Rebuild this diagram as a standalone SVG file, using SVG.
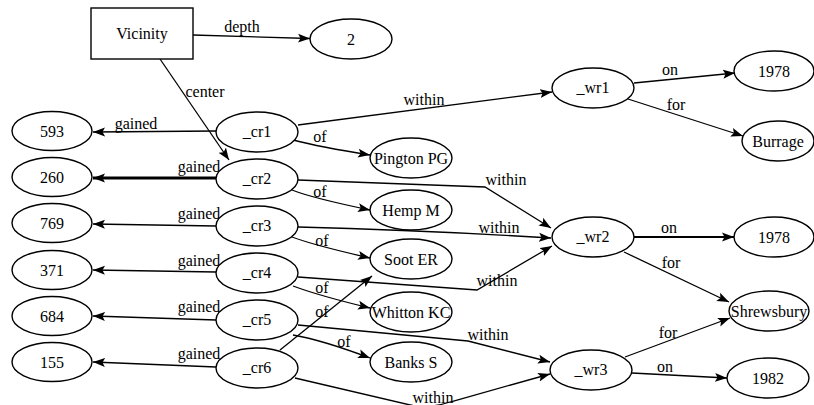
<svg xmlns="http://www.w3.org/2000/svg" width="814" height="405" viewBox="0 0 814 405">
  <defs>
    <marker id="arrow" markerUnits="userSpaceOnUse" markerWidth="14" markerHeight="10" refX="12" refY="5" orient="auto">
      <path d="M0,0.5 L12,5 L0,9.5 L2.5,5 z" fill="#000"/>
    </marker>
    <style>
      text { font-family: Liberation Serif, Times New Roman, Tinos, Nimbus Roman, FreeSerif, DejaVu Serif, serif; font-size: 16px; fill: #000; }
      .node text { text-anchor: middle; }
      .node ellipse, .node rect { fill: #fff; stroke: #000; stroke-width: 1.4; }
      .edges path { fill: none; stroke: #000; stroke-width: 1.3; marker-end: url(#arrow); }
      .edges path.bold { stroke-width: 2.8; }
      .edges path.mid { stroke-width: 2; }
      .edges text { text-anchor: middle; }
    </style>
  </defs>
  <rect width="814" height="405" fill="#fff"/>

  <!-- connectors -->
  <g id="edges" class="edges">
    <path d="M193,35 L310,38.5"/>
    <text x="242" y="32">depth</text>
    <path d="M160,59 L229,160"/>
    <text x="205" y="97">center</text>

    <path d="M216,131 L93,132"/>
    <text x="136" y="129">gained</text>
    <path class="bold" d="M216,178 L93,178"/>
    <text x="199" y="172">gained</text>
    <path d="M216,226 L93,224"/>
    <text x="199" y="219">gained</text>
    <path d="M216,272 L93,270"/>
    <text x="199" y="266">gained</text>
    <path d="M216,320 L93,316"/>
    <text x="199" y="312">gained</text>
    <path d="M216,367 L93,362"/>
    <text x="199" y="359">gained</text>

    <path d="M293,140 Q320,147 370,155"/>
    <text x="320" y="142">of</text>
    <path d="M292,190 Q312,198 370,210"/>
    <text x="320" y="197">of</text>
    <path d="M292,237 Q313,245 370,258"/>
    <text x="322" y="246">of</text>
    <path d="M293,286 Q320,296 370,308"/>
    <text x="322" y="293">of</text>
    <path d="M280,350 L372,276"/>
    <text x="322" y="317">of</text>
    <path d="M293,335 Q322,340 370,358"/>
    <text x="344" y="347">of</text>

    <path d="M298,125 L552,92"/>
    <text x="424" y="105">within</text>
    <path d="M298,180 L485,187 L551,228"/>
    <text x="506" y="185">within</text>
    <path d="M298,227 Q420,230 551,238"/>
    <text x="499" y="233">within</text>
    <path d="M298,277 L477,290 L552,246"/>
    <text x="497" y="286">within</text>
    <path d="M298,325 L468,341 L550,362"/>
    <text x="488" y="340">within</text>
    <path d="M295,378 L410,405 Q428,409 450,402 L550,374"/>
    <text x="433" y="403">within</text>

    <path d="M634,83 L735,73"/>
    <text x="670" y="75">on</text>
    <path d="M628,99 L743,136"/>
    <text x="676" y="110">for</text>
    <path class="mid" d="M634,237 L734,237"/>
    <text x="669" y="233">on</text>
    <path d="M624,252 L729,302"/>
    <text x="671" y="268">for</text>
    <path d="M625,357 L730,318"/>
    <text x="668" y="338">for</text>
    <path d="M632,373 L727,378"/>
    <text x="665" y="372">on</text>
  </g>

  <!-- nodes -->
  <g id="vicinity" class="node"><rect x="91" y="8" width="102" height="51"/><text x="142" y="39">Vicinity</text></g>
  <g id="depth2" class="node"><ellipse cx="351" cy="39" rx="41" ry="20"/><text x="351" y="44.5">2</text></g>

  <g id="n593" class="node"><ellipse cx="52" cy="131" rx="40" ry="19.5"/><text x="52" y="136.5">593</text></g>
  <g id="n260" class="node"><ellipse cx="52" cy="177" rx="40" ry="19.5"/><text x="52" y="182.5">260</text></g>
  <g id="n769" class="node"><ellipse cx="52" cy="223" rx="40" ry="19.5"/><text x="52" y="228.5">769</text></g>
  <g id="n371" class="node"><ellipse cx="52" cy="270" rx="40" ry="19.5"/><text x="52" y="275.5">371</text></g>
  <g id="n684" class="node"><ellipse cx="52" cy="316" rx="40" ry="19.5"/><text x="52" y="321.5">684</text></g>
  <g id="n155" class="node"><ellipse cx="52" cy="362" rx="40" ry="19.5"/><text x="52" y="367.5">155</text></g>

  <g id="cr1" class="node"><ellipse cx="257" cy="132" rx="41" ry="20"/><text x="257" y="137">_cr1</text></g>
  <g id="cr2" class="node"><ellipse cx="257" cy="179" rx="41" ry="20"/><text x="257" y="184">_cr2</text></g>
  <g id="cr3" class="node"><ellipse cx="257" cy="226" rx="41" ry="20"/><text x="257" y="231">_cr3</text></g>
  <g id="cr4" class="node"><ellipse cx="257" cy="273" rx="41" ry="20"/><text x="257" y="278">_cr4</text></g>
  <g id="cr5" class="node"><ellipse cx="257" cy="320" rx="41" ry="20"/><text x="257" y="325">_cr5</text></g>
  <g id="cr6" class="node"><ellipse cx="257" cy="368" rx="41" ry="20"/><text x="257" y="373">_cr6</text></g>

  <g id="pington" class="node"><ellipse cx="411" cy="158" rx="41" ry="20"/><text x="411" y="163.5">Pington PG</text></g>
  <g id="hemp" class="node"><ellipse cx="411" cy="210" rx="41" ry="20"/><text x="411" y="215.5">Hemp M</text></g>
  <g id="soot" class="node"><ellipse cx="411" cy="259" rx="41" ry="20"/><text x="411" y="264.5">Soot ER</text></g>
  <g id="whitton" class="node"><ellipse cx="411" cy="312" rx="41" ry="20"/><text x="411" y="317.5">Whitton KC</text></g>
  <g id="banks" class="node"><ellipse cx="411" cy="362" rx="41" ry="20"/><text x="411" y="367.5">Banks S</text></g>

  <g id="wr1" class="node"><ellipse cx="593" cy="88" rx="41" ry="20"/><text x="593" y="93">_wr1</text></g>
  <g id="wr2" class="node"><ellipse cx="593" cy="237" rx="41" ry="20"/><text x="593" y="242">_wr2</text></g>
  <g id="wr3" class="node"><ellipse cx="591" cy="370" rx="41" ry="20"/><text x="591" y="375">_wr3</text></g>

  <g id="y1978a" class="node"><ellipse cx="774" cy="71" rx="40" ry="20"/><text x="774" y="76.5">1978</text></g>
  <g id="burrage" class="node"><ellipse cx="778" cy="141" rx="36" ry="20"/><text x="778" y="146.5">Burrage</text></g>
  <g id="y1978b" class="node"><ellipse cx="774" cy="237" rx="40" ry="20"/><text x="774" y="242.5">1978</text></g>
  <g id="shrewsbury" class="node"><ellipse cx="769" cy="311" rx="40" ry="20"/><text x="769" y="316.5">Shrewsbury</text></g>
  <g id="y1982" class="node"><ellipse cx="768" cy="378" rx="41" ry="20"/><text x="768" y="383.5">1982</text></g>
</svg>
